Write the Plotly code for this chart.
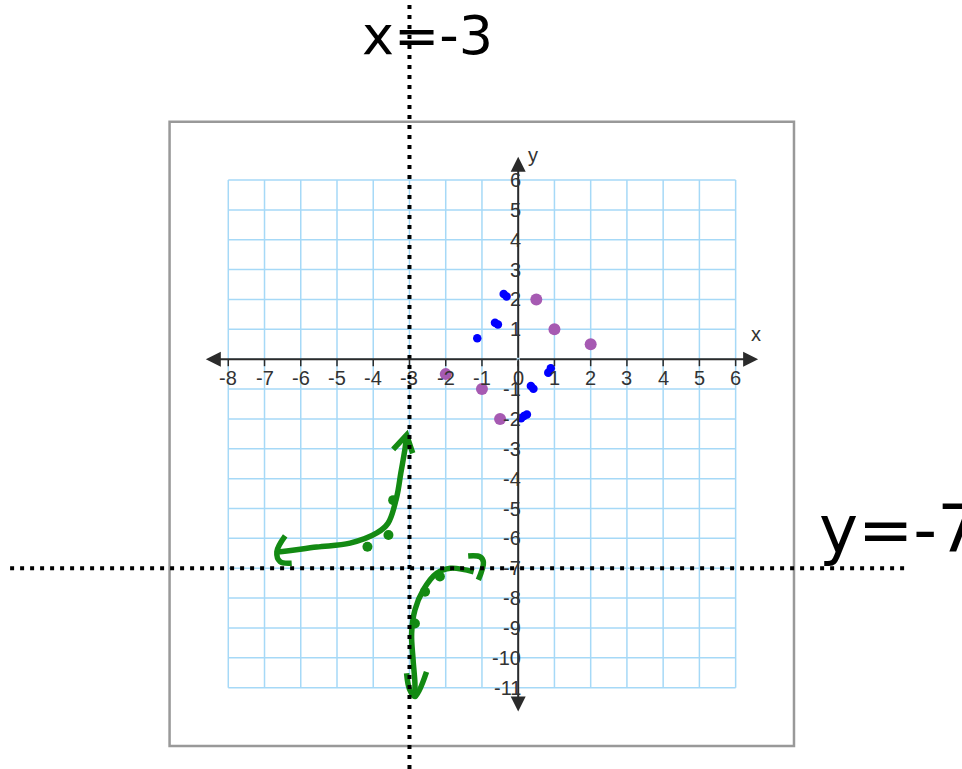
import plotly.graph_objects as go

# ---- data -------------------------------------------------------------
x_ticks = list(range(-8, 7))
y_ticks = list(range(-11, 7))

# plotted points of y = 1/x
purple_x = [0.5, 1, 2, -2, -1, -0.5]
purple_y = [2, 1, 0.5, -0.5, -1, -2]

# pen dots drawn in blue
blue_x = [-0.40, -0.32, -0.64, -0.56, -1.13, 0.83, 0.90, 0.35, 0.42, 0.08, 0.16, 0.24]
blue_y = [2.18, 2.10, 1.22, 1.16, 0.70, -0.45, -0.30, -0.90, -0.99, -1.98, -1.90, -1.85]

# asymptotes
asym_x = -3
asym_y = -7

# hand-drawn branch, upper-left
green_a_x = [-3.08, -3.12, -3.24, -3.35, -3.59, -3.90, -4.64, -5.56, -6.57, -6.66]
green_a_y = [-2.54, -2.97, -3.82, -4.60, -5.49, -5.82, -6.16, -6.29, -6.45, -6.45]
green_a_top_x = [-3.45, -3.08, -2.91]
green_a_top_y = [-3.02, -2.54, -3.15]
green_a_left_x = [-6.43, -6.66, -6.57, -6.25]
green_a_left_y = [-5.92, -6.45, -6.78, -6.83]
green_a_dots_x = [-3.45, -3.58, -4.16]
green_a_dots_y = [-4.72, -5.89, -6.28]

# hand-drawn branch, lower-right
green_b_x = [-1.23, -1.87, -2.25, -2.62, -2.85, -2.94, -2.90, -2.85, -2.85]
green_b_y = [-7.12, -7.00, -7.17, -7.73, -8.40, -9.18, -10.07, -10.85, -11.30]
green_b_hook_x = [-1.38, -1.05, -0.96, -1.10]
green_b_hook_y = [-6.59, -6.62, -6.80, -7.39]
green_b_bottom_x = [-3.08, -3.00, -2.85, -2.53]
green_b_bottom_y = [-10.52, -11.05, -11.30, -10.47]
green_b_dots_x = [-2.16, -2.57, -2.85]
green_b_dots_y = [-7.28, -7.79, -8.85]

# ---- styles -----------------------------------------------------------
GRID = "#a6d9f7"
AXIS = "#2b2b2b"
LABEL = "#333333"
GREEN = "#138a13"
PURPLE = "#a65ab2"
BLUE = "#0000ff"

X_RANGE = [-14.299, 12.246]
Y_RANGE = [-13.724, 12.029]

fig = go.Figure()
shapes = []
annotations = []

# outer frame
shapes.append(dict(type="rect", x0=-9.62, x1=7.61, y0=-12.95, y1=7.95,
                   line=dict(color="#999999", width=2.5), layer="below"))

# blue grid
for xv in x_ticks:
    shapes.append(dict(type="line", x0=xv, x1=xv, y0=y_ticks[0], y1=y_ticks[-1],
                       line=dict(color=GRID, width=1.5), layer="below"))
for yv in y_ticks:
    shapes.append(dict(type="line", x0=x_ticks[0], x1=x_ticks[-1], y0=yv, y1=yv,
                       line=dict(color=GRID, width=1.5), layer="below"))

# x tick marks (pointing down from the axis)
for xv in x_ticks:
    shapes.append(dict(type="line", xref="x", yref="y", ysizemode="pixel", yanchor=0,
                       x0=xv, x1=xv, y0=-7, y1=0,
                       line=dict(color=AXIS, width=1.5)))

# axes with arrowheads at both ends
for (tx, ty) in [(-8.62, 0), (6.62, 0), (0, 6.78), (0, -11.8)]:
    annotations.append(dict(x=tx, y=ty, ax=0, ay=0, xref="x", yref="y", axref="x", ayref="y",
                            showarrow=True, arrowhead=2, arrowsize=1.5, arrowwidth=2,
                            arrowcolor=AXIS, text=""))

# tick labels
tick_font = dict(family="Liberation Sans, Arial, sans-serif", size=20, color=LABEL)
for xv in x_ticks:
    annotations.append(dict(x=xv, y=0, xref="x", yref="y", text=str(xv), showarrow=False,
                            yshift=-19, font=tick_font))
for yv in y_ticks:
    if yv == 0:
        continue
    annotations.append(dict(x=0, y=yv, xref="x", yref="y", text=str(yv), showarrow=False,
                            xanchor="right", xshift=5, font=tick_font))
annotations.append(dict(x=6.62, y=0, xref="x", yref="y", text="x", showarrow=False,
                        xshift=-2, yshift=25, font=tick_font))
annotations.append(dict(x=0, y=6.78, xref="x", yref="y", text="y", showarrow=False,
                        xshift=15, yshift=2, font=tick_font))

# dotted asymptotes
shapes.append(dict(type="line", x0=asym_x, x1=asym_x, y0=Y_RANGE[0], y1=Y_RANGE[1],
                   line=dict(color="black", width=4, dash="4px,6px")))
shapes.append(dict(type="line", x0=-14.02, x1=10.70, y0=asym_y, y1=asym_y,
                   line=dict(color="black", width=4, dash="4px,6px")))

# handwritten asymptote labels
annotations.append(dict(x=asym_x, y=10.85, xref="x", yref="y", text="x=-3", showarrow=False,
                        xanchor="center", xshift=18,
                        font=dict(family="DejaVu Sans, sans-serif", size=54, color="black")))
annotations.append(dict(x=8.25, y=asym_y, xref="x", yref="y", text="y=-7", showarrow=False,
                        xanchor="left", yanchor="bottom", yshift=-2,
                        font=dict(family="DejaVu Sans, sans-serif", size=66, color="black")))

# green strokes
def stroke(xs, ys, smooth=True):
    fig.add_trace(go.Scatter(x=xs, y=ys, mode="lines",
                             line=dict(color=GREEN, width=5.5, shape="spline" if smooth else "linear"),
                             hoverinfo="skip", showlegend=False))

stroke(green_a_x, green_a_y)
stroke(green_a_top_x, green_a_top_y, smooth=False)
stroke(green_a_left_x, green_a_left_y)
stroke(green_b_x, green_b_y)
stroke(green_b_hook_x, green_b_hook_y)
stroke(green_b_bottom_x, green_b_bottom_y)
fig.add_trace(go.Scatter(x=green_a_dots_x + green_b_dots_x, y=green_a_dots_y + green_b_dots_y,
                         mode="markers", marker=dict(color=GREEN, size=10),
                         hoverinfo="skip", showlegend=False))

# plotted points
fig.add_trace(go.Scatter(x=purple_x, y=purple_y, mode="markers",
                         marker=dict(color=PURPLE, size=12),
                         hoverinfo="skip", showlegend=False))
fig.add_trace(go.Scatter(x=blue_x, y=blue_y, mode="markers",
                         marker=dict(color=BLUE, size=8.5),
                         hoverinfo="skip", showlegend=False))

fig.update_layout(
    width=962, height=769,
    margin=dict(l=0, r=0, t=0, b=0),
    paper_bgcolor="white", plot_bgcolor="white",
    xaxis=dict(range=X_RANGE, visible=False, fixedrange=True),
    yaxis=dict(range=Y_RANGE, visible=False, fixedrange=True),
    shapes=shapes, annotations=annotations,
    showlegend=False,
)

fig.write_html("out.html")
